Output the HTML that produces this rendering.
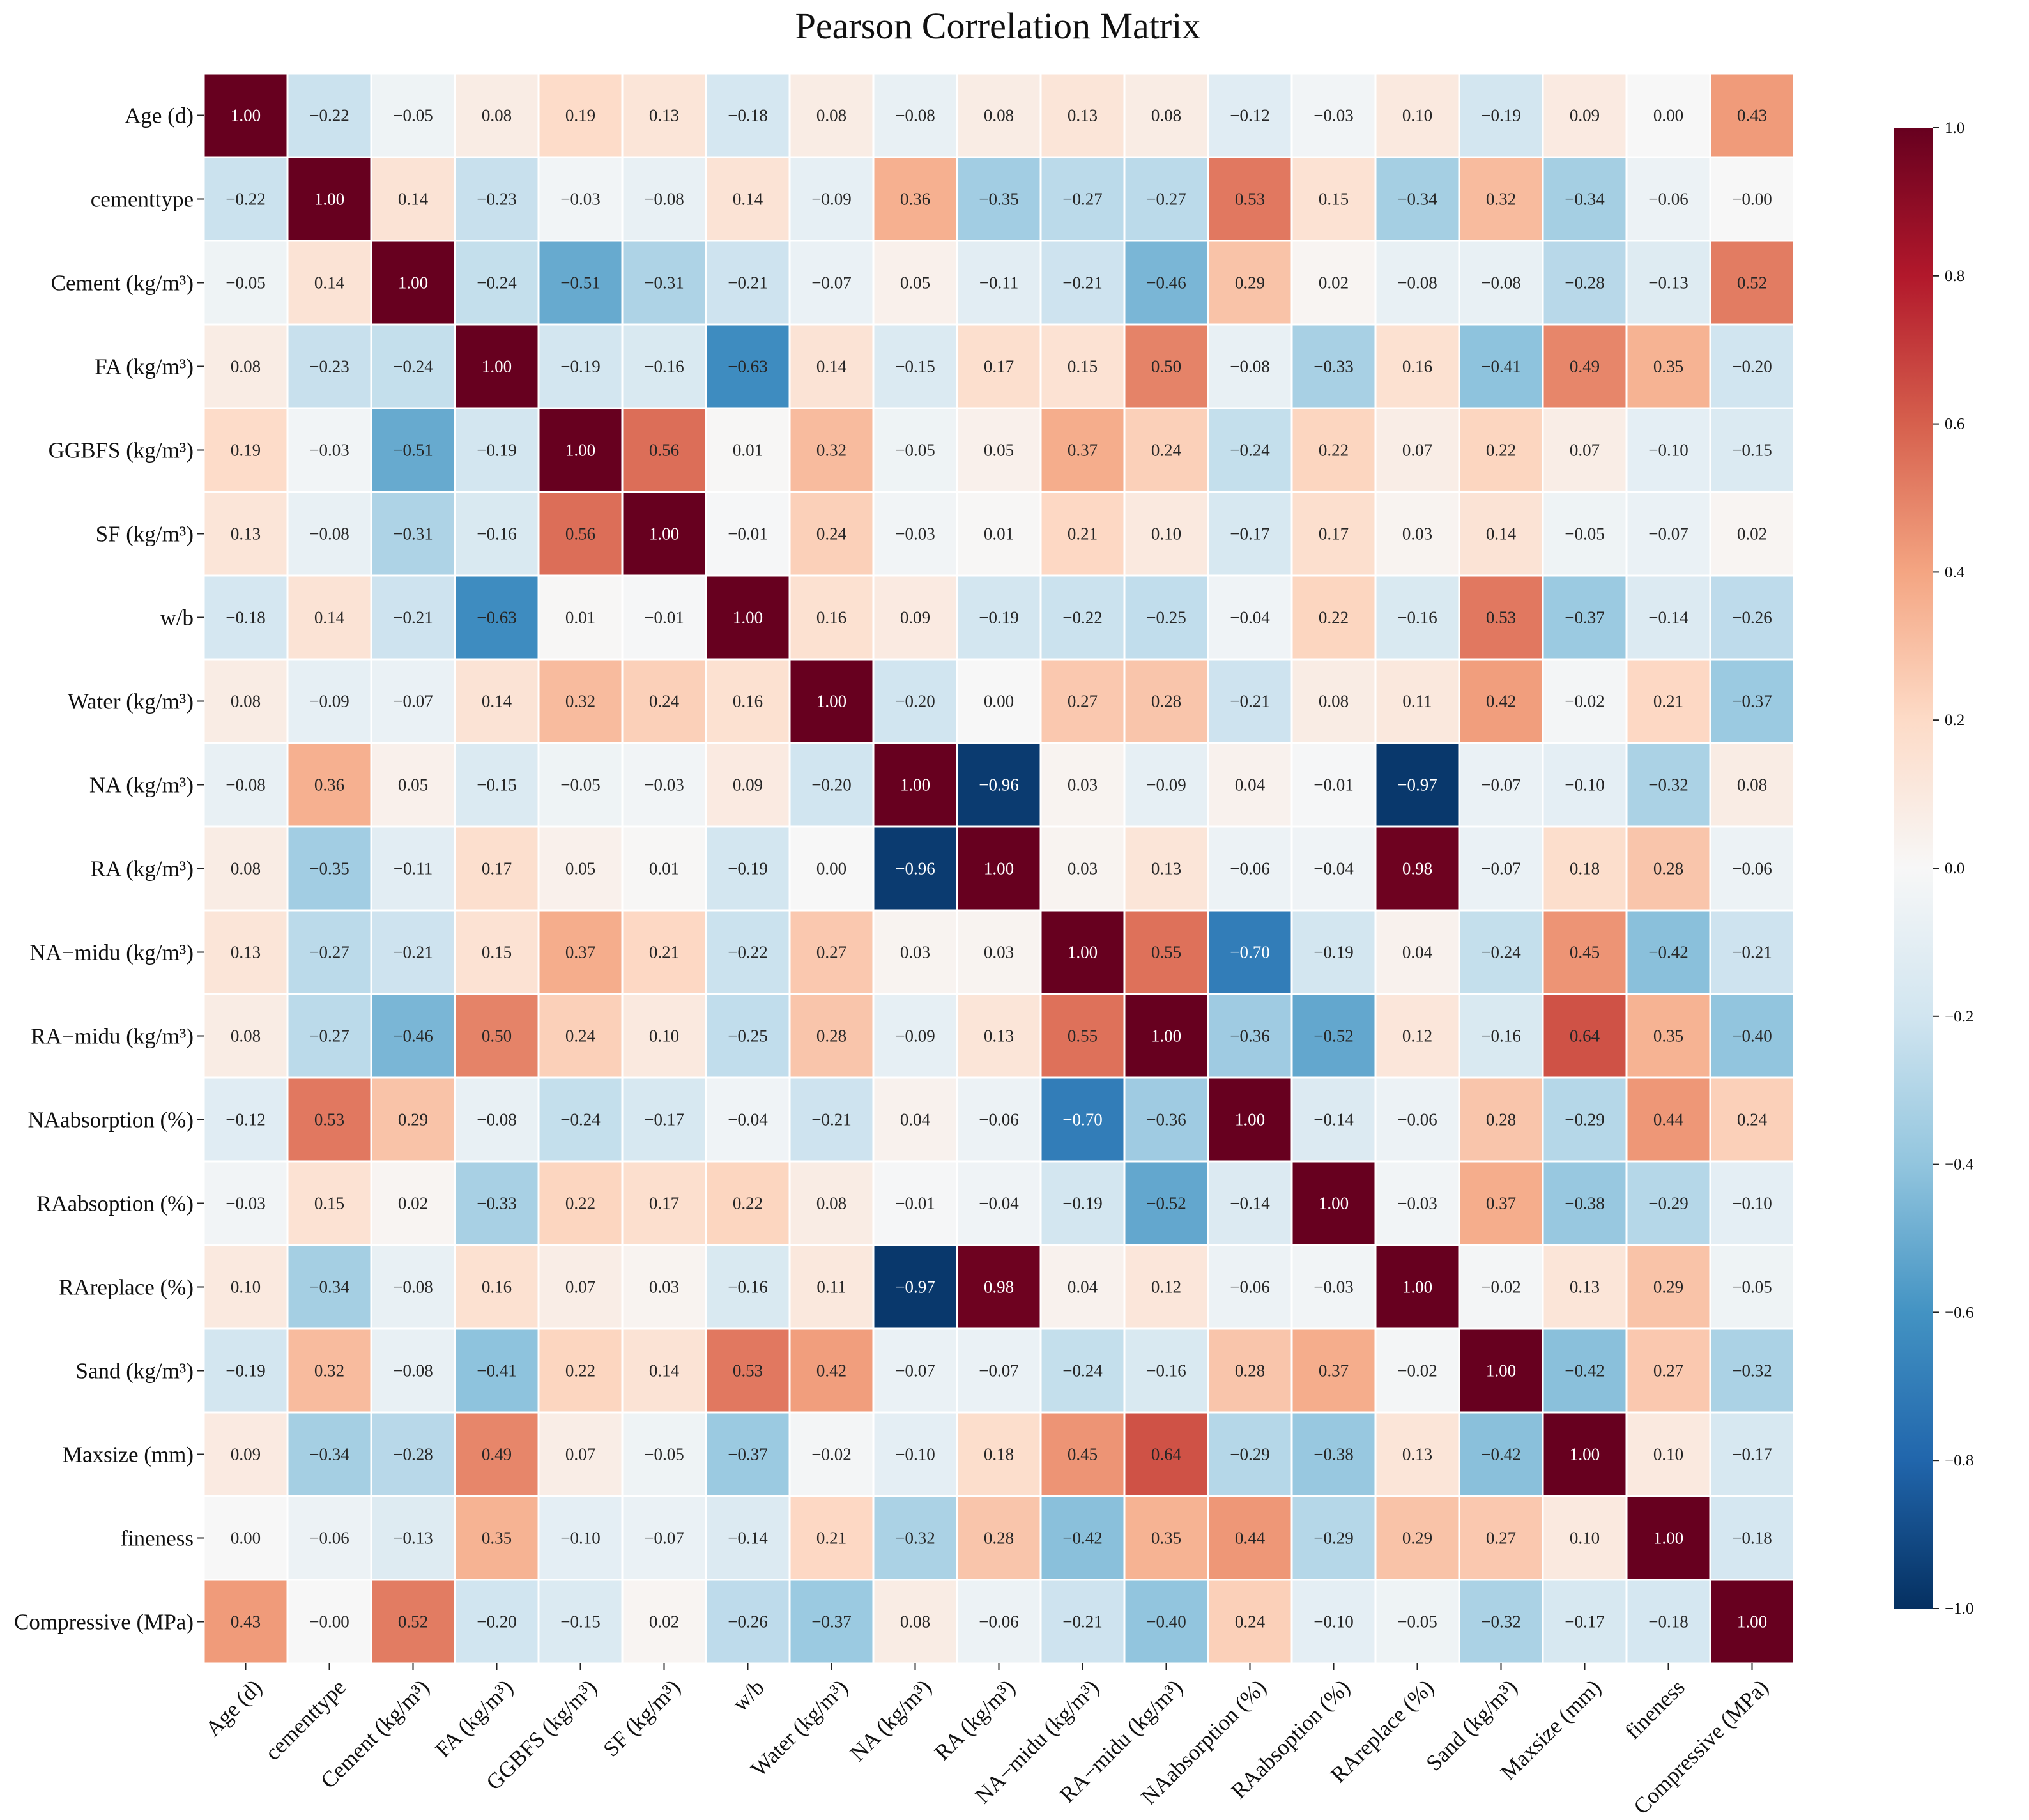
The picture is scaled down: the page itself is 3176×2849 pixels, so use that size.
<!DOCTYPE html>
<html><head><meta charset="utf-8">
<style>
html,body{margin:0;padding:0;background:#fff;}
svg{display:block;font-family:"Liberation Serif","DejaVu Serif",serif;}
</style></head>
<body>
<svg id="chart" width="3176" height="2849" viewBox="0 0 3176 2849" xmlns="http://www.w3.org/2000/svg">
<defs>
<linearGradient id="cbgrad" x1="0" y1="0" x2="0" y2="1">
<stop offset="0" stop-color="#67001f"/><stop offset="0.1" stop-color="#b2182b"/><stop offset="0.2" stop-color="#d6604d"/><stop offset="0.3" stop-color="#f4a582"/><stop offset="0.4" stop-color="#fddbc7"/><stop offset="0.5" stop-color="#f7f7f7"/><stop offset="0.6" stop-color="#d1e5f0"/><stop offset="0.7" stop-color="#92c5de"/><stop offset="0.8" stop-color="#4393c3"/><stop offset="0.9" stop-color="#2166ac"/><stop offset="1" stop-color="#053061"/>
</linearGradient>
</defs>
<text x="1562" y="60" font-size="58" text-anchor="middle" fill="#111">Pearson Correlation Matrix</text>
<g id="cells"></g>
<g id="ylabels"></g>
<g id="xlabels"></g>
<rect x="2964" y="200" width="61" height="2318" fill="url(#cbgrad)"/>
<g id="cbticks"></g>
</svg>
<script>
const variables = ["Age (d)","cementtype","Cement (kg/m³)","FA (kg/m³)","GGBFS (kg/m³)","SF (kg/m³)","w/b","Water (kg/m³)","NA (kg/m³)","RA (kg/m³)","NA−midu (kg/m³)","RA−midu (kg/m³)","NAabsorption (%)","RAabsoption (%)","RAreplace (%)","Sand (kg/m³)","Maxsize (mm)","fineness","Compressive (MPa)"];
const corrMatrix = [
[1.00,-0.22,-0.05,0.08,0.19,0.13,-0.18,0.08,-0.08,0.08,0.13,0.08,-0.12,-0.03,0.10,-0.19,0.09,0.00,0.43],
[-0.22,1.00,0.14,-0.23,-0.03,-0.08,0.14,-0.09,0.36,-0.35,-0.27,-0.27,0.53,0.15,-0.34,0.32,-0.34,-0.06,-0],
[-0.05,0.14,1.00,-0.24,-0.51,-0.31,-0.21,-0.07,0.05,-0.11,-0.21,-0.46,0.29,0.02,-0.08,-0.08,-0.28,-0.13,0.52],
[0.08,-0.23,-0.24,1.00,-0.19,-0.16,-0.63,0.14,-0.15,0.17,0.15,0.50,-0.08,-0.33,0.16,-0.41,0.49,0.35,-0.20],
[0.19,-0.03,-0.51,-0.19,1.00,0.56,0.01,0.32,-0.05,0.05,0.37,0.24,-0.24,0.22,0.07,0.22,0.07,-0.10,-0.15],
[0.13,-0.08,-0.31,-0.16,0.56,1.00,-0.01,0.24,-0.03,0.01,0.21,0.10,-0.17,0.17,0.03,0.14,-0.05,-0.07,0.02],
[-0.18,0.14,-0.21,-0.63,0.01,-0.01,1.00,0.16,0.09,-0.19,-0.22,-0.25,-0.04,0.22,-0.16,0.53,-0.37,-0.14,-0.26],
[0.08,-0.09,-0.07,0.14,0.32,0.24,0.16,1.00,-0.20,0.00,0.27,0.28,-0.21,0.08,0.11,0.42,-0.02,0.21,-0.37],
[-0.08,0.36,0.05,-0.15,-0.05,-0.03,0.09,-0.20,1.00,-0.96,0.03,-0.09,0.04,-0.01,-0.97,-0.07,-0.10,-0.32,0.08],
[0.08,-0.35,-0.11,0.17,0.05,0.01,-0.19,0.00,-0.96,1.00,0.03,0.13,-0.06,-0.04,0.98,-0.07,0.18,0.28,-0.06],
[0.13,-0.27,-0.21,0.15,0.37,0.21,-0.22,0.27,0.03,0.03,1.00,0.55,-0.70,-0.19,0.04,-0.24,0.45,-0.42,-0.21],
[0.08,-0.27,-0.46,0.50,0.24,0.10,-0.25,0.28,-0.09,0.13,0.55,1.00,-0.36,-0.52,0.12,-0.16,0.64,0.35,-0.40],
[-0.12,0.53,0.29,-0.08,-0.24,-0.17,-0.04,-0.21,0.04,-0.06,-0.70,-0.36,1.00,-0.14,-0.06,0.28,-0.29,0.44,0.24],
[-0.03,0.15,0.02,-0.33,0.22,0.17,0.22,0.08,-0.01,-0.04,-0.19,-0.52,-0.14,1.00,-0.03,0.37,-0.38,-0.29,-0.10],
[0.10,-0.34,-0.08,0.16,0.07,0.03,-0.16,0.11,-0.97,0.98,0.04,0.12,-0.06,-0.03,1.00,-0.02,0.13,0.29,-0.05],
[-0.19,0.32,-0.08,-0.41,0.22,0.14,0.53,0.42,-0.07,-0.07,-0.24,-0.16,0.28,0.37,-0.02,1.00,-0.42,0.27,-0.32],
[0.09,-0.34,-0.28,0.49,0.07,-0.05,-0.37,-0.02,-0.10,0.18,0.45,0.64,-0.29,-0.38,0.13,-0.42,1.00,0.10,-0.17],
[0.00,-0.06,-0.13,0.35,-0.10,-0.07,-0.14,0.21,-0.32,0.28,-0.42,0.35,0.44,-0.29,0.29,0.27,0.10,1.00,-0.18],
[0.43,-0,0.52,-0.20,-0.15,0.02,-0.26,-0.37,0.08,-0.06,-0.21,-0.40,0.24,-0.10,-0.05,-0.32,-0.17,-0.18,1.00]
];
const colorbarTicks = [1.0,0.8,0.6,0.4,0.2,0.0,-0.2,-0.4,-0.6,-0.8,-1.0];

const NS = "http://www.w3.org/2000/svg";
const gLeft = 319, gTop = 115, gRight = 2808, gBottom = 2604;
const n = variables.length;
const cw = (gRight - gLeft) / n, ch = (gBottom - gTop) / n;
function xPos(i){ return gLeft + i * cw; }
function yPos(i){ return gTop + i * ch; }
const cbTop = 200, cbBottom = 2518;
function cbY(v){ return cbTop + (1 - v) / 2 * (cbBottom - cbTop); }

const stops = ["#053061","#2166ac","#4393c3","#92c5de","#d1e5f0","#f7f7f7","#fddbc7","#f4a582","#d6604d","#b2182b","#67001f"];
function hex(h){ return [parseInt(h.substr(1,2),16),parseInt(h.substr(3,2),16),parseInt(h.substr(5,2),16)]; }
function colorFor(v){
  const t = Math.max(0, Math.min(1, (v + 1) / 2)) * (stops.length - 1);
  const i = Math.min(stops.length - 2, Math.floor(t)); const f = t - i;
  const a = hex(stops[i]), b = hex(stops[i+1]);
  return a.map((c,k)=>Math.round(c + (b[k]-c)*f));
}
function fmt(v){
  const neg = v < 0 || Object.is(v, -0);
  return (neg ? "\u2212" : "") + Math.abs(v).toFixed(2);
}
function mk(tag, attrs, parent){
  const el = document.createElementNS(NS, tag);
  for (const k in attrs) el.setAttribute(k, attrs[k]);
  parent.appendChild(el); return el;
}
const cells = document.getElementById("cells");
for (let r = 0; r < n; r++){
  for (let c = 0; c < n; c++){
    const v = corrMatrix[r][c];
    const rgb = colorFor(v);
    const rect = mk("rect", {x: xPos(c)+1.5, y: yPos(r)+1.5, width: cw-3, height: ch-3, fill: `rgb(${rgb.join(",")})`}, cells);
    
    
    const lum = (0.299*rgb[0] + 0.587*rgb[1] + 0.114*rgb[2]) / 255;
    const t = mk("text", {x: xPos(c)+cw/2, y: yPos(r)+ch/2+9, "font-size": 27, "text-anchor": "middle", fill: lum < 0.45 ? "#fff" : "#262626"}, cells);
    
    
    t.textContent = fmt(v);
  }
}
const yl = document.getElementById("ylabels");
const xl = document.getElementById("xlabels");
for (let i = 0; i < n; i++){
  const cy = yPos(i) + ch/2;
  mk("line", {x1: gLeft-10, x2: gLeft, y1: cy, y2: cy, stroke: "#222", "stroke-width": 2}, yl);
  const t = mk("text", {x: gLeft-16, y: cy+12, "font-size": 35, "text-anchor": "end", fill: "#111"}, yl);
  
  
  t.textContent = variables[i];
  const cx = xPos(i) + cw/2;
  mk("line", {x1: cx, x2: cx, y1: gBottom, y2: gBottom+10, stroke: "#222", "stroke-width": 2}, xl);
  const ax = cx + 10, ay = gBottom + 22;
  const tx = mk("text", {x: ax, y: ay, "font-size": 35, "text-anchor": "end", "dominant-baseline": "hanging", transform: `rotate(-45 ${ax} ${ay})`, fill: "#111"}, xl);
  
  
  tx.textContent = variables[i];
}
const cb = document.getElementById("cbticks");
colorbarTicks.forEach(v=>{
  const y = cbY(v);
  mk("line", {x1: 3025, x2: 3035, y1: y, y2: y, stroke: "#222", "stroke-width": 2}, cb);
  const t = mk("text", {x: 3044, y: y+8, "font-size": 25, fill: "#111"}, cb);
  
  
  t.textContent = (v < 0 ? "\u2212" : "") + Math.abs(v).toFixed(1);
});
</script>
</body></html>
